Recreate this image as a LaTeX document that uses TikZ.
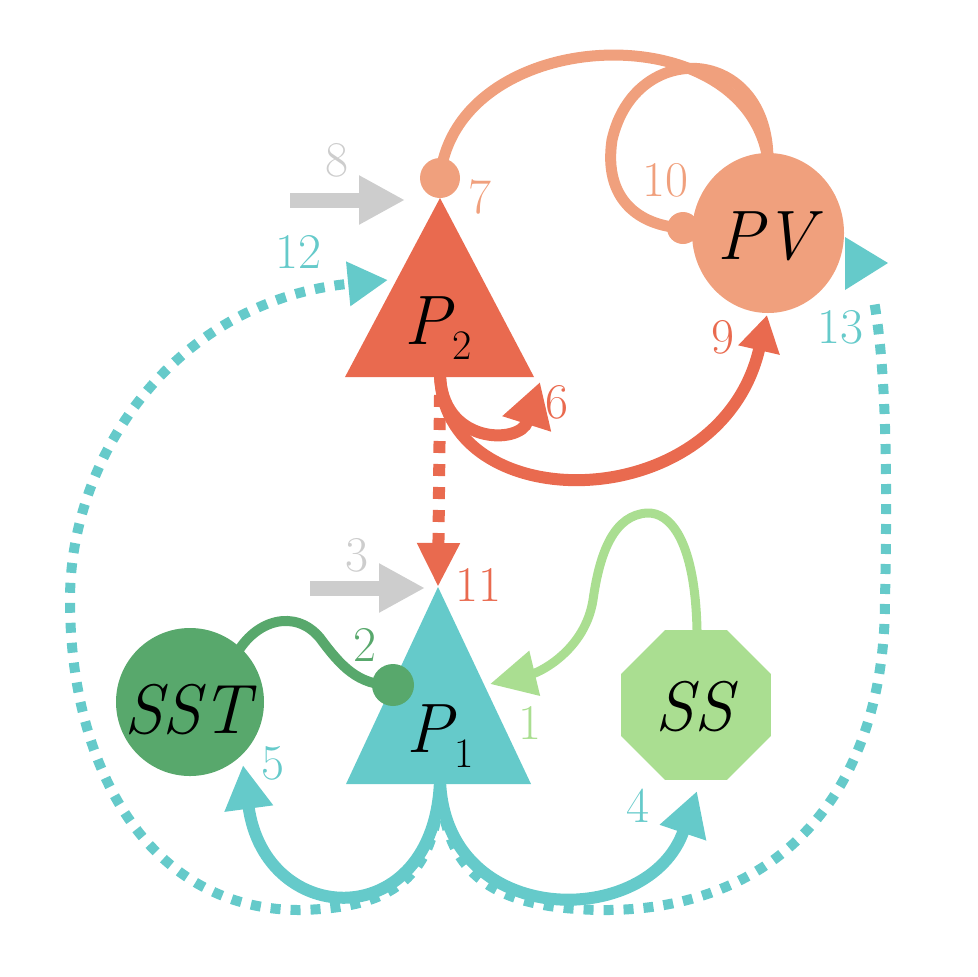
\documentclass[tikz,border=0pt]{standalone}
\usetikzlibrary{arrows.meta,shapes.geometric}
\definecolor{pred}{HTML}{E96A4F}
\definecolor{pvc}{HTML}{F0A07D}
\definecolor{teal1}{HTML}{65CACA}
\definecolor{sstc}{HTML}{58A86C}
\definecolor{ssc}{HTML}{AADE91}
\definecolor{grayc}{HTML}{CDCDCD}
\newcommand{\cellsub}[2]{\textit{#1}\kern0.02em\raisebox{-7.5pt}{\upshape\fontsize{21}{25}\selectfont #2}}
\begin{document}
\begin{tikzpicture}[x=0.5pt,y=-0.5pt,
  num/.style={font=\fontsize{25}{30}\selectfont, inner sep=0pt},
  lbl/.style={font=\fontsize{35}{40}\selectfont\itshape, inner sep=0pt, anchor=base},
  tealdots/.style={draw=teal1, line width=5pt, dash pattern=on 5pt off 5pt},
  reddots/.style={draw=pred, line width=6pt, dash pattern=on 6pt off 5.5pt},
  solidteal/.style={draw=teal1, line width=6pt},
  solidred/.style={draw=pred, line width=6pt},
  orangeline/.style={draw=pvc, line width=5.5pt},
  grayarrow/.style={draw=grayc, line width=7.5pt, -{Triangle[length=23pt,width=23pt]}},
  synapse/.style={circle, inner sep=0pt},
]
\useasboundingbox (0,0) rectangle (978,976);

% key coordinates
\coordinate (P2a) at (440,198);
\coordinate (P2l) at (345,377);
\coordinate (P2r) at (534,377);
\coordinate (P2b) at (440,372);
\coordinate (P1a) at (438,587);
\coordinate (P1l) at (346,784);
\coordinate (P1r) at (531,784);
\coordinate (P1b) at (440,780);
\coordinate (c7) at (440,178);
\coordinate (c10) at (683,228);
\coordinate (c2) at (393,685);
\coordinate (PVtop) at (768,160);
\coordinate (t12) at (388,280);
\coordinate (t13b) at (873,295);
\coordinate (t6) at (540,382);
\coordinate (t9) at (767,315);
\coordinate (t5) at (243,765);
\coordinate (t4) at (697,791);
\coordinate (t1) at (490,684);
\coordinate (r11s) at (440,395);
\coordinate (SSt) at (697,630);
\coordinate (SSTs) at (236,655);
\coordinate (g8s) at (290,200);
\coordinate (g8t) at (405,200);
\coordinate (g3s) at (310,588);
\coordinate (g3t) at (425,588);

% teal dotted projections (12, 13)
\draw[tealdots, -{Triangle[length=20pt,width=21pt]}] (P1b) .. controls (438,880) and (390,908) .. (300,910)
  .. controls (150,910) and (70,770) .. (70,600)
  .. controls (70,450) and (180,300) .. (t12);
\draw[tealdots] (P1b) .. controls (443,880) and (500,908) .. (600,910)
  .. controls (780,912) and (885,790) .. (885,600)
  .. controls (888,450) and (885,360) .. (t13b);
\fill[teal1] (845,237) -- (888,263) -- (845,290) -- cycle;

% PV connections (7, 10)
\draw[orangeline] (c7) .. controls (455,25) and (745,10) .. (PVtop);
\draw[orangeline] (PVtop) .. controls (768,45) and (635,38) .. (612,140)
  .. controls (603,200) and (640,226) .. (c10);
\node[ellipse, fill=pvc, minimum width=76pt, minimum height=80pt, inner sep=0pt] (PV) at (768,233) {};
\node[synapse, fill=pvc, minimum size=16pt] (s10) at (c10) {};

% P2
\fill[pred] (P2a) -- (P2l) -- (P2r) -- cycle;
\node[synapse, fill=pvc, minimum size=20pt] (s7) at (c7) {};

% red dotted P2 -> P1 (11)
\draw[reddots, -{Triangle[length=22pt,width=20pt]}] (r11s) -- (P1a);

% P2 outputs (6, 9)
\draw[solidred, -{Triangle[length=22pt,width=24pt]}] (P2b) .. controls (440,445) and (520,445) .. (t6);
\draw[solidred, -{Triangle[length=18pt,width=20pt]}] (P2b) .. controls (440,520) and (720,520) .. (t9);

% gray inputs (8, 3)
\draw[grayarrow] (g8s) -- (g8t);
\draw[grayarrow] (g3s) -- (g3t);

% P1, SST, SS
\fill[teal1] (P1a) -- (P1l) -- (P1r) -- cycle;
\node[circle, fill=sstc, minimum size=74pt, inner sep=0pt] (SST) at (190,702) {};
\node[regular polygon, regular polygon sides=8, fill=ssc, minimum size=81pt, inner sep=0pt] (SS) at (696,705) {};

% SS -> P1 (1)
\draw[draw=ssc, line width=4.5pt, -{Triangle[length=23pt,width=22pt]}] (SSt)
  .. controls (695,540) and (670,512) .. (647,513)
  .. controls (615,515) and (600,550) .. (593,600)
  .. controls (585,650) and (540,672) .. (t1);

% SST -> P1 (2)
\draw[draw=sstc, line width=5pt] (SSTs) .. controls (255,620) and (295,608) .. (320,638)
  .. controls (340,665) and (358,686) .. (c2);
\node[synapse, fill=sstc, minimum size=21pt] (s2) at (c2) {};

% P1 outputs (5, 4)
\draw[solidteal, -{Triangle[length=22pt,width=23pt]}] (P1b) .. controls (435,935) and (265,930) .. (t5);
\draw[solidteal, -{Triangle[length=22pt,width=23pt]}] (P1b) .. controls (445,930) and (650,930) .. (t4);

% cell labels
\node[lbl] (lPV) at (766,259) {PV};
\node[lbl] (lP2) at (438,344) {\cellsub{P}{2}};
\node[lbl] (lP1) at (440,752) {\cellsub{P}{1}};
\node[lbl] (lSST) at (187,733) {SST};
\node[lbl] (lSS) at (694,730) {SS};

% numbers
\node[num, text=grayc] (n8) at (337,160) {8};
\node[num, text=pvc] (n7) at (480,197) {7};
\node[num, text=pvc] (n10) at (665,180) {10};
\node[num, text=teal1] (n12) at (298,252) {12};
\node[num, text=teal1] (n13) at (840,327) {13};
\node[num, text=pred] (n9) at (723,337) {9};
\node[num, text=pred] (n6) at (557,402) {6};
\node[num, text=grayc] (n3) at (357,555) {3};
\node[num, text=pred] (n11) at (478,585) {11};
\node[num, text=sstc] (n2) at (365,645) {2};
\node[num, text=ssc] (n1) at (530,723) {1};
\node[num, text=teal1] (n5) at (273,763) {5};
\node[num, text=teal1] (n4) at (638,806) {4};
\end{tikzpicture}
\end{document}
